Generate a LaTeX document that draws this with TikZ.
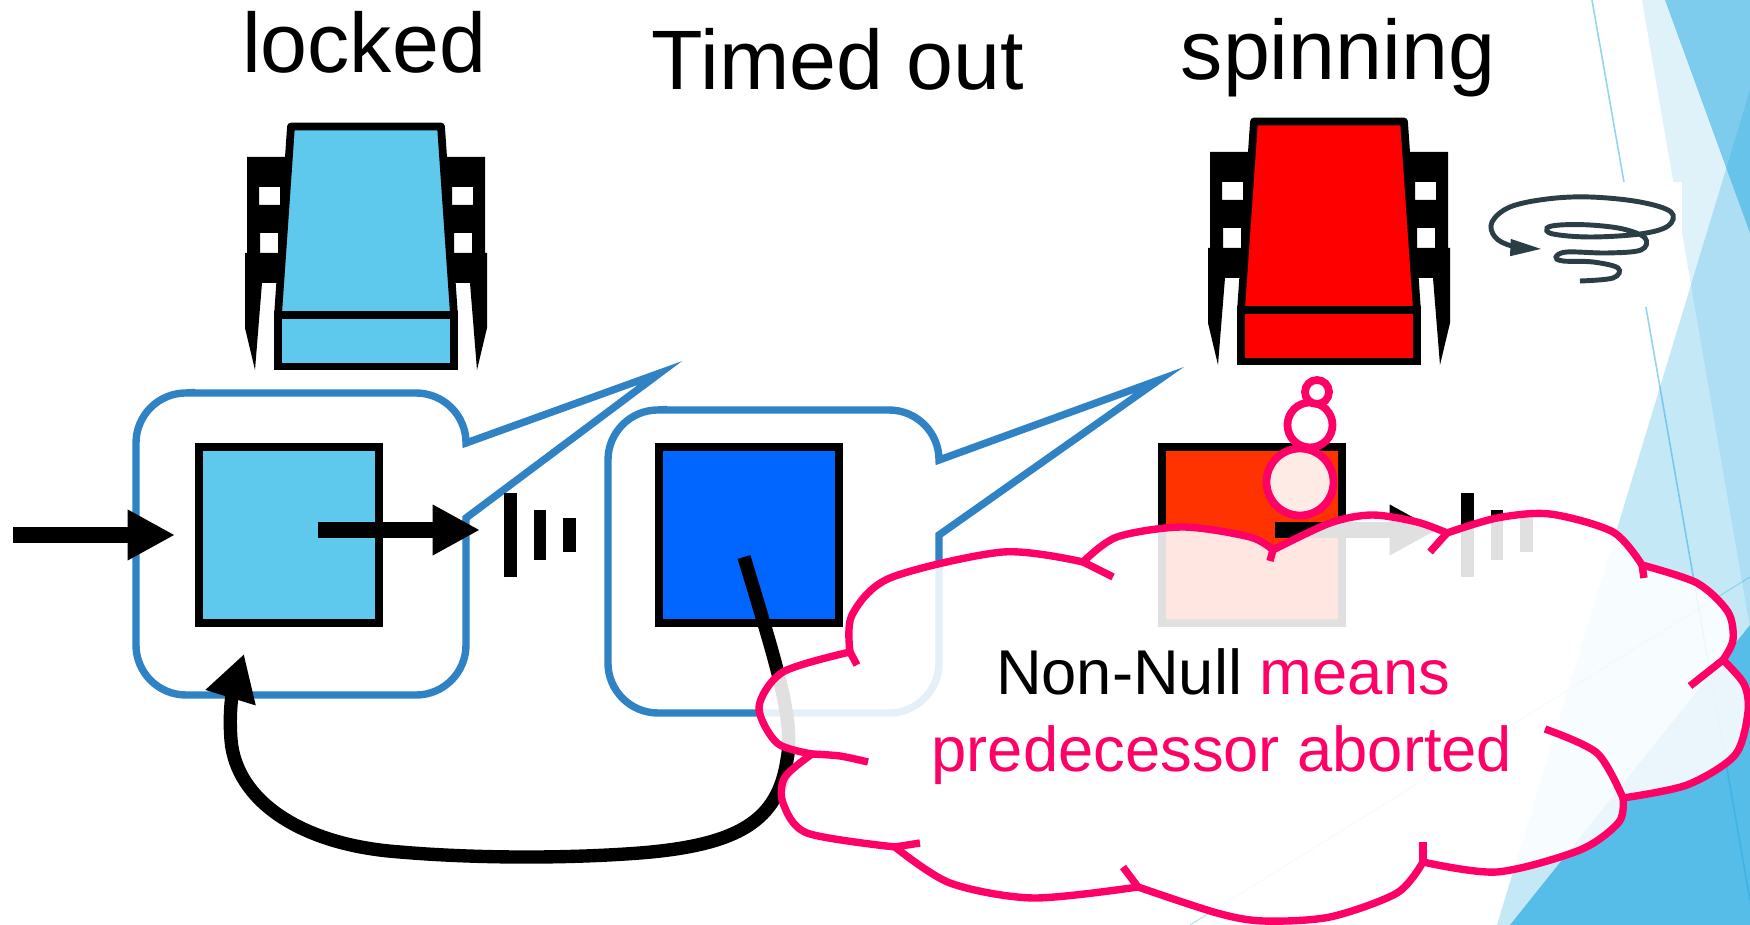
\documentclass[tikz,border=0pt]{standalone}
\usepackage{fontspec}
\setmainfont{Liberation Sans}
\usetikzlibrary{arrows.meta,positioning}

\definecolor{lockblue}{HTML}{5EC9ED}
\definecolor{timedblue}{HTML}{0066FF}
\definecolor{spinred}{HTML}{FF0000}
\definecolor{spinorange}{HTML}{FF3300}
\definecolor{callblue}{HTML}{2F83C5}
\definecolor{thinkpink}{HTML}{FF0066}
\definecolor{swirlgray}{HTML}{2C3E45}
\definecolor{facet}{HTML}{29ABE2}

\tikzset{
  sq/.style={draw=black, line width=2.2pt, minimum width=1.8cm, minimum height=1.76cm, inner sep=0pt},
  callbox/.style={draw=callblue, line width=2.1pt, fill=white},
  bigarrow/.style={line width=4.5pt, -{Triangle[length=13.5pt,width=13.5pt]}},
  fbarrow/.style={line width=3.8pt, -{Triangle[length=13pt,width=14pt]}},
  title/.style={anchor=base, font=\fontsize{24}{29}\selectfont},
  note/.style={anchor=base, font=\fontsize{18}{22}\selectfont},
  bubble/.style={draw=thinkpink, line width=2.2pt, fill=white, fill opacity=0.9},
  cloudline/.style={draw=thinkpink, line width=2.1pt, line join=round},
  % armchair, #1 = colour of back and seat
  pics/chair/.style={code={
    \foreach \s in {-1,1} {
      \fill[black, even odd rule, xscale=\s]
        (-119,34) -- (-72,34) -- (-72,160) -- (-104,160) -- (-111,247)
        -- (-121,205) -- (-121,130) -- (-119,130) -- cycle
        (-107,64) rectangle (-86,82) (-106,110) rectangle (-88,130);
    }
    \filldraw[fill=#1, draw=black, line width=2.2pt, line join=round]
      (-75,3.5) -- (75,3.5) -- (88,192) -- (-88,192) -- cycle;
    \filldraw[fill=#1, draw=black, line width=2.2pt] (-88,192) rectangle (88,243.5);
  }},
  % queue bars after an arrow
  pics/waitbars/.style={code={
    \fill (0,-42) rectangle (13,42);
    \fill (30,-25) rectangle (42,25);
    \fill (59,-17) rectangle (72,17);
  }},
}

\begin{document}
\begin{tikzpicture}[x=0.01cm, y=-0.01cm]
\useasboundingbox (0,0) rectangle (1750,925);
\fill[white] (0,0) rectangle (1750,925);

% background facets
\fill[facet, opacity=0.15] (1642,0) -- (1750,0) -- (1750,628) -- cycle;
\fill[facet, opacity=0.27] (1750,90) -- (1497,925) -- (1750,925) -- cycle;
\fill[facet, opacity=0.53] (1665,0) -- (1750,0) -- (1750,233) -- cycle;
\fill[facet, opacity=0.71] (1750,625) -- (1510,925) -- (1750,925) -- cycle;
\draw[facet, opacity=0.5, line width=0.45pt] (1592,0) -- (1750,900);
\draw[facet, opacity=0.35, line width=0.3pt] (1750,577) -- (1190,925);

% spinning swirl
\fill[white] (1485,182) rectangle (1682,307);
\draw[swirlgray, line width=1.4pt, -{Triangle[length=9pt,width=4.5pt]}]
  plot[smooth, tension=0.6] coordinates {(1580,281) (1613,278) (1618,268) (1593,262)
  (1563,261) (1556,257) (1567,252) (1607,253) (1641,250) (1645,238) (1623,229)
  (1590,225) (1560,225) (1547,228) (1553,234) (1590,237) (1640,234) (1668,226)
  (1671,212) (1640,202) (1590,197) (1547,199) (1510,207) (1492,222) (1495,237)
  (1512,246) (1542,249)};

% titles
\node[title] (locked) at (364,73) {locked};
\node[title] (timed) at (838,90) {Timed out};
\node[title] (spinning) at (1338,80) {spinning};

% chairs
\pic at (366,123) {chair=lockblue};
\pic at (1329,118) {chair=spinred};

% callout boxes
\draw[callbox] (186,393) -- (416,393) arc[start angle=90, end angle=0, radius=0.5cm]
  -- (660,373) -- (466,518) -- (466,645) arc[start angle=0, end angle=-90, radius=0.5cm]
  -- (186,695) arc[start angle=-90, end angle=-180, radius=0.5cm]
  -- (136,443) arc[start angle=180, end angle=90, radius=0.5cm] -- cycle;
\draw[callbox] (658,410) -- (889,410) arc[start angle=90, end angle=0, radius=0.5cm]
  -- (1159,380) -- (939,535) -- (939,663) arc[start angle=0, end angle=-90, radius=0.5cm]
  -- (658,713) arc[start angle=-90, end angle=-180, radius=0.5cm]
  -- (608,460) arc[start angle=180, end angle=90, radius=0.5cm] -- cycle;

% nodes
\node[sq, fill=lockblue] (sqlocked) at (289,535) {};
\node[sq, fill=timedblue] (sqtimed) at (749,535) {};
\node[sq, fill=spinorange] (sqspin) at (1252,535) {};

\coordinate (in) at (13,535);
\coordinate (inend) at (175,535);
\coordinate (out1) at (318,530);
\coordinate (out1end) at (480,530);
\coordinate (out3) at (1275,530);
\coordinate (out3end) at (1437,530);
\coordinate (fbstart) at (744,557);
\coordinate (fbend) at (244,654);

\draw[bigarrow] (in) -- (inend);
\draw[bigarrow] (out1) -- (out1end);
\draw[bigarrow] (out3) -- (out3end);
\pic at (504,535) {waitbars};
\pic at (1461,535) {waitbars};

% timed-out thread goes back to the start
\draw[fbarrow] (fbstart) .. controls (775,660) and (795,720) .. (787,760)
  .. controls (778,820) and (740,845) .. (640,853)
  .. controls (560,859) and (470,858) .. (400,852)
  .. controls (300,845) and (236,800) .. (231,740)
  .. controls (228,700) and (236,680) .. (fbend);

% thought bubbles
\draw[bubble] (1300,482) circle[radius=33.5];
\draw[bubble] (1310,425) circle[radius=22.5];
\draw[bubble] (1317,392) circle[radius=12];

% cloud
\filldraw[cloudline, fill=white, fill opacity=0.88] (850,652)
  -- plot[smooth] coordinates {(850,652) (852,615) (890,578) (1003,552) (1083,562)}
  -- plot[smooth] coordinates {(1083,562) (1117,537) (1183,527) (1250,537) (1273,550)}
  -- plot[smooth] coordinates {(1273,550) (1330,523) (1372,515) (1417,522) (1447,533)}
  -- plot[smooth] coordinates {(1447,533) (1497,518) (1550,514) (1613,532) (1642,565)}
  -- plot[smooth] coordinates {(1642,565) (1697,583) (1728,612) (1733,640) (1723,660)}
  -- plot[smooth] coordinates {(1723,660) (1744,684) (1748,712) (1735,755) (1687,785) (1623,798)}
  -- plot[smooth] coordinates {(1623,798) (1619,822) (1580,850) (1497,872) (1423,862)}
  -- plot[smooth] coordinates {(1423,862) (1397,893) (1330,917) (1263,921) (1217,913) (1138,887)}
  -- plot[smooth] coordinates {(1138,887) (1033,898) (950,883) (895,847)}
  -- plot[smooth] coordinates {(895,847) (807,833) (783,803) (785,777) (812,754)}
  -- plot[smooth] coordinates {(812,754) (777,743) (759,707) (783,672) (850,652)}
  -- cycle;
\draw[cloudline] (850,652) -- (857,665);
\draw[cloudline] (1083,562) -- (1113,577);
\draw[cloudline] (1273,550) -- (1270,561);
\draw[cloudline] (1447,533) -- (1430,552);
\draw[cloudline] (1642,565) -- (1644,578);
\draw[cloudline] (1723,660) -- (1690,686);
\draw[cloudline] plot[smooth] coordinates {(1545,729) (1597,753) (1623,798)};
\draw[cloudline] (1423,862) -- (1423,842);
\draw[cloudline] (1138,887) -- (1123,867);
\draw[cloudline] (895,847) -- (920,843);
\draw[cloudline] plot[smooth] coordinates {(812,754) (840,756) (868,762)};

\node[note] (note1) at (1223,695) {Non-Null \textcolor{thinkpink}{means}};
\node[note, text=thinkpink] (note2) at (1222,772) {predecessor aborted};
\end{tikzpicture}
\end{document}
